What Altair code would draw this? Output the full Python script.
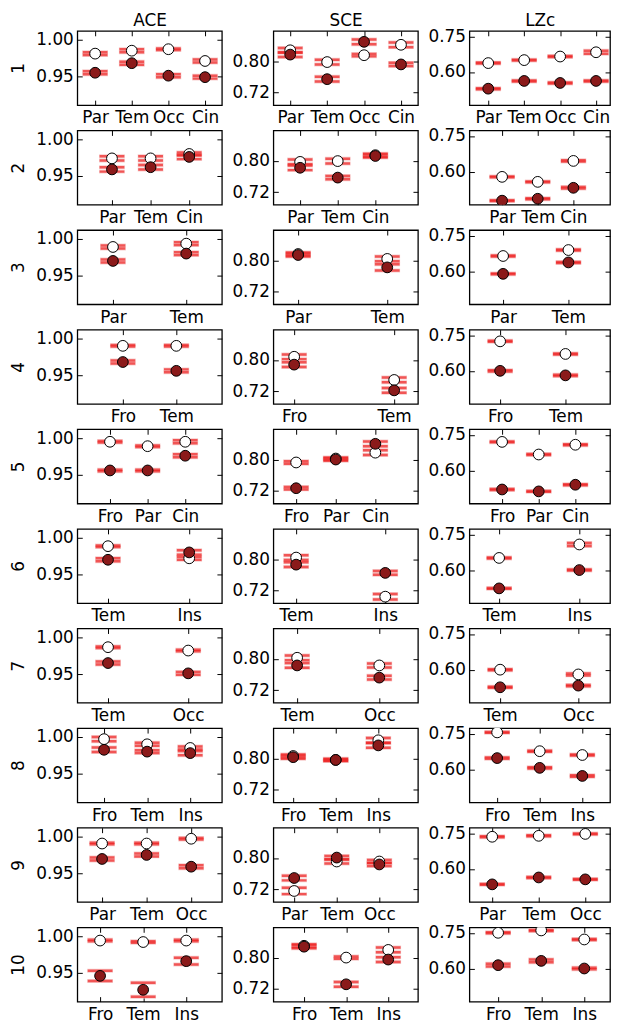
import json
import altair as alt
import pandas as pd

MEASURES = ["ACE", "SCE", "LZc"]
REGIONS = [
    ["Par", "Tem", "Occ", "Cin"],
    ["Par", "Tem", "Cin"],
    ["Par", "Tem"],
    ["Fro", "Tem"],
    ["Fro", "Par", "Cin"],
    ["Tem", "Ins"],
    ["Tem", "Occ"],
    ["Fro", "Tem", "Ins"],
    ["Par", "Tem", "Occ"],
    ["Fro", "Tem", "Ins"],
]

# ---- ACE ----
ACE_OPEN = [
    [0.981, 0.985, 0.987, 0.971], [0.974, 0.974, 0.980], [0.989, 0.9935],
    [0.990, 0.990], [0.995, 0.989, 0.995], [0.9885, 0.972], [0.9866, 0.982],
    [0.997, 0.990, 0.985], [0.9905, 0.9905, 0.997], [0.994, 0.992, 0.994],
]
ACE_OPEN_ERR = [
    [0.002, 0.002, 0.001, 0.002], [0.003, 0.003, 0.002], [0.002, 0.002],
    [0.001, 0.001], [0.001, 0.001, 0.002], [0.001, 0.002], [0.001, 0.001],
    [0.003, 0.002, 0.002], [0.001, 0.001, 0.001], [0.001, 0.001, 0.001],
]
ACE_FILL = [
    [0.955, 0.968, 0.951, 0.949], [0.959, 0.962, 0.976], [0.970, 0.980],
    [0.968, 0.956], [0.956, 0.956, 0.976], [0.970, 0.980], [0.965, 0.951],
    [0.9825, 0.980, 0.978], [0.9695, 0.975, 0.959], [0.946, 0.927, 0.966],
]
ACE_FILL_ERR = [
    [0.002, 0.002, 0.002, 0.002], [0.003, 0.003, 0.003], [0.002, 0.002],
    [0.002, 0.002], [0.001, 0.001, 0.002], [0.002, 0.003], [0.002, 0.002],
    [0.003, 0.002, 0.003], [0.002, 0.002, 0.002], [0.007, 0.0095, 0.0045],
]

# ---- SCE ----
SCE_OPEN = [
    [0.8275, 0.7975, 0.815, 0.8415], [0.797, 0.799, 0.814], [0.816, 0.8035],
    [0.808, 0.749], [0.7925, 0.8025, 0.8175], [0.804, 0.7045], [0.8025, 0.783],
    [0.806, 0.796, 0.846], [0.716, 0.791, 0.791], [0.830, 0.800, 0.8195],
]
SCE_OPEN_ERR = [
    [0.006, 0.006, 0.003, 0.006], [0.006, 0.006, 0.004], [0.004, 0.006],
    [0.006, 0.006], [0.003, 0.003, 0.006], [0.006, 0.007], [0.006, 0.005],
    [0.004, 0.003, 0.006], [0.008, 0.005, 0.004], [0.004, 0.003, 0.006],
]
SCE_FILL = [
    [0.8165, 0.754, 0.849, 0.7915], [0.782, 0.757, 0.812], [0.8135, 0.782],
    [0.788, 0.7225], [0.727, 0.800, 0.840], [0.786, 0.765], [0.783, 0.752],
    [0.803, 0.796, 0.833], [0.749, 0.801, 0.7835], [0.8277, 0.732, 0.795],
]
SCE_FILL_ERR = [
    [0.006, 0.006, 0.006, 0.004], [0.006, 0.004, 0.004], [0.004, 0.008],
    [0.006, 0.006], [0.003, 0.003, 0.006], [0.006, 0.005], [0.006, 0.005],
    [0.004, 0.002, 0.006], [0.006, 0.004, 0.004], [0.004, 0.006, 0.006],
]

# ---- LZc ----
LZC_OPEN = [
    [0.6375, 0.650, 0.665, 0.683], [0.578, 0.557, 0.645], [0.664, 0.689],
    [0.724, 0.671], [0.720, 0.667, 0.708], [0.651, 0.7075], [0.600, 0.580],
    [0.755, 0.676, 0.660], [0.735, 0.739, 0.747], [0.750, 0.760, 0.722],
]
LZC_OPEN_ERR = [
    [0.002, 0.002, 0.002, 0.006], [0.002, 0.002, 0.003], [0.002, 0.002],
    [0.002, 0.002], [0.002, 0.002, 0.002], [0.002, 0.006], [0.002, 0.004],
    [0.002, 0.002, 0.002], [0.002, 0.002, 0.002], [0.002, 0.002, 0.002],
]
LZC_FILL = [
    [0.530, 0.5625, 0.554, 0.5625], [0.478, 0.486, 0.532], [0.589, 0.637],
    [0.600, 0.581], [0.520, 0.512, 0.540], [0.523, 0.600], [0.526, 0.533],
    [0.647, 0.606, 0.572], [0.535, 0.564, 0.556], [0.614, 0.632, 0.600],
]
LZC_FILL_ERR = [
    [0.002, 0.002, 0.002, 0.002], [0.002, 0.002, 0.003], [0.002, 0.002],
    [0.003, 0.003], [0.002, 0.002, 0.002], [0.002, 0.002], [0.002, 0.003],
    [0.003, 0.003, 0.003], [0.002, 0.002, 0.002], [0.006, 0.006, 0.003],
]

DATA = {
    "ACE": (ACE_OPEN, ACE_OPEN_ERR, ACE_FILL, ACE_FILL_ERR),
    "SCE": (SCE_OPEN, SCE_OPEN_ERR, SCE_FILL, SCE_FILL_ERR),
    "LZc": (LZC_OPEN, LZC_OPEN_ERR, LZC_FILL, LZC_FILL_ERR),
}

Y_DOMAIN = {"ACE": [0.911, 1.012], "SCE": [0.688, 0.877], "LZc": [0.461, 0.773]}
Y_TICKS = {"ACE": [0.95, 1.0], "SCE": [0.72, 0.80], "LZc": [0.60, 0.75]}

# per row, per column: (position of first category in px, step between categories in px)
X_PLACE = [
    [(18, 37), (17, 37.3), (19, 36.3)],
    [(35, 39), (27, 38), (33, 36)],
    [(36, 74), (25, 90), (34, 66)],
    [(46, 54), (21, 101), (31, 66)],
    [(33, 38), (23, 40), (33, 37)],
    [(31, 82), (23, 90), (30, 81)],
    [(31, 81), (24, 83), (31, 79)],
    [(27, 43.5), (20, 43), (28, 43)],
    [(25, 45), (21, 43), (23, 47)],
    [(23, 43.5), (31, 42.5), (29, 43.5)],
]

WIDTHS = [146, 146, 142]
H = 75
FONT = "DejaVu Sans"
ERR_LIGHT = "#f4b8b8"
ERR_CORE = "#ee2222"
DARK = "#8b1a1a"


def panel(r, c):
    m = MEASURES[c]
    W = WIDTHS[c]
    names = REGIONS[r]
    n = len(names)
    om, oe, fm, fe = DATA[m]
    rows = []
    for i in range(n):
        rows.append(dict(idx=i, kind="open", mean=om[r][i],
                         lo=om[r][i] - oe[r][i], hi=om[r][i] + oe[r][i]))
        rows.append(dict(idx=i, kind="fill", mean=fm[r][i],
                         lo=fm[r][i] - fe[r][i], hi=fm[r][i] + fe[r][i]))
    df = pd.DataFrame(rows)
    p0, step = X_PLACE[r][c]
    lo = -p0 / step
    hi = lo + W / step
    xs = alt.Scale(domain=[lo, hi], nice=False, zero=False)
    ys = alt.Scale(domain=Y_DOMAIN[m], nice=False, zero=False)
    idxs = list(range(n))
    lab = json.dumps(names)

    x_lab = alt.Axis(orient="bottom", values=idxs, labelExpr=f"{lab}[datum.value]",
                     ticks=False, domain=False, grid=False, title=None,
                     labelPadding=5, labelFlush=False, labelOverlap=False, labelBound=False)
    x_bot = alt.Axis(orient="bottom", values=idxs, labels=False, ticks=True, tickSize=5,
                     offset=-5, domain=False, grid=False, title=None)
    top_kw = dict(title=None)
    if r == 0:
        top_kw = dict(title=m, titleX=W / 2, titleY=-10, titleAlign="center",
                      titleBaseline="alphabetic", titleAngle=0, titlePadding=0)
    x_top = alt.Axis(orient="top", values=idxs, labels=False, ticks=True, tickSize=5,
                     offset=-5, domain=False, grid=False, **top_kw)
    if c == 0:
        ykw = dict(title=str(r + 1), titleX=-59, titleY=H / 2, titleAlign="center",
                   titleBaseline="middle", titleAngle=270)
    else:
        ykw = dict(title=None)
    y_lab = alt.Axis(orient="left", values=Y_TICKS[m], format=".2f", ticks=False,
                     domain=False, grid=False, labelPadding=4, labelFlush=False,
                     labelOverlap=False, **ykw)
    y_left = alt.Axis(orient="left", values=Y_TICKS[m], labels=False, ticks=True,
                      tickSize=5, offset=-5, domain=False, grid=False, title=None)
    y_right = alt.Axis(orient="right", values=Y_TICKS[m], labels=False, ticks=True,
                       tickSize=5, offset=-5, domain=False, grid=False, title=None)

    base = alt.Chart(df)
    ends = base.transform_fold(["lo", "hi"], as_=["end", "val"])
    halo = ends.mark_tick(orient="horizontal", size=26, thickness=4, color=ERR_LIGHT,
                          clip=True).encode(
        x=alt.X("idx:Q", scale=xs, axis=x_lab),
        y=alt.Y("val:Q", scale=ys, axis=y_lab))
    core = ends.mark_tick(orient="horizontal", size=25, thickness=2.5, color=ERR_CORE,
                          clip=True).encode(
        x=alt.X("idx:Q", scale=xs, axis=x_bot),
        y=alt.Y("val:Q", scale=ys, axis=y_left))
    white = base.transform_filter("datum.kind == 'open'").mark_point(
        shape="circle", filled=True, size=118, fill="white", stroke="black",
        strokeWidth=1, opacity=1, clip=True).encode(
        x=alt.X("idx:Q", scale=xs, axis=x_top),
        y=alt.Y("mean:Q", scale=ys, axis=y_right))
    dark = base.transform_filter("datum.kind == 'fill'").mark_point(
        shape="circle", filled=True, size=118, fill=DARK, stroke="black",
        strokeWidth=1, opacity=1, clip=True).encode(
        x=alt.X("idx:Q", scale=xs, axis=None),
        y=alt.Y("mean:Q", scale=ys, axis=None))
    ch = alt.layer(halo, core, white, dark).resolve_axis(
        x="independent", y="independent").properties(width=W, height=H)
    return ch


panels = [panel(r, c) for r in range(len(REGIONS)) for c in range(3)]

chart = alt.concat(*panels, columns=3, spacing={"row": 25.6, "column": 52},
                   bounds="flush").properties(
    padding={"left": 1, "top": -2, "right": 0, "bottom": -2},
    background="white"
).configure_axis(
    labelFont=FONT, labelFontSize=17, labelColor="black", titleFont=FONT,
    titleFontSize=17, titleFontWeight="normal", titleColor="black",
    tickColor="black", tickWidth=1
).configure_view(stroke="black", strokeWidth=1.3)

chart.save("out.html", embed_options={"renderer": "svg", "actions": False})
